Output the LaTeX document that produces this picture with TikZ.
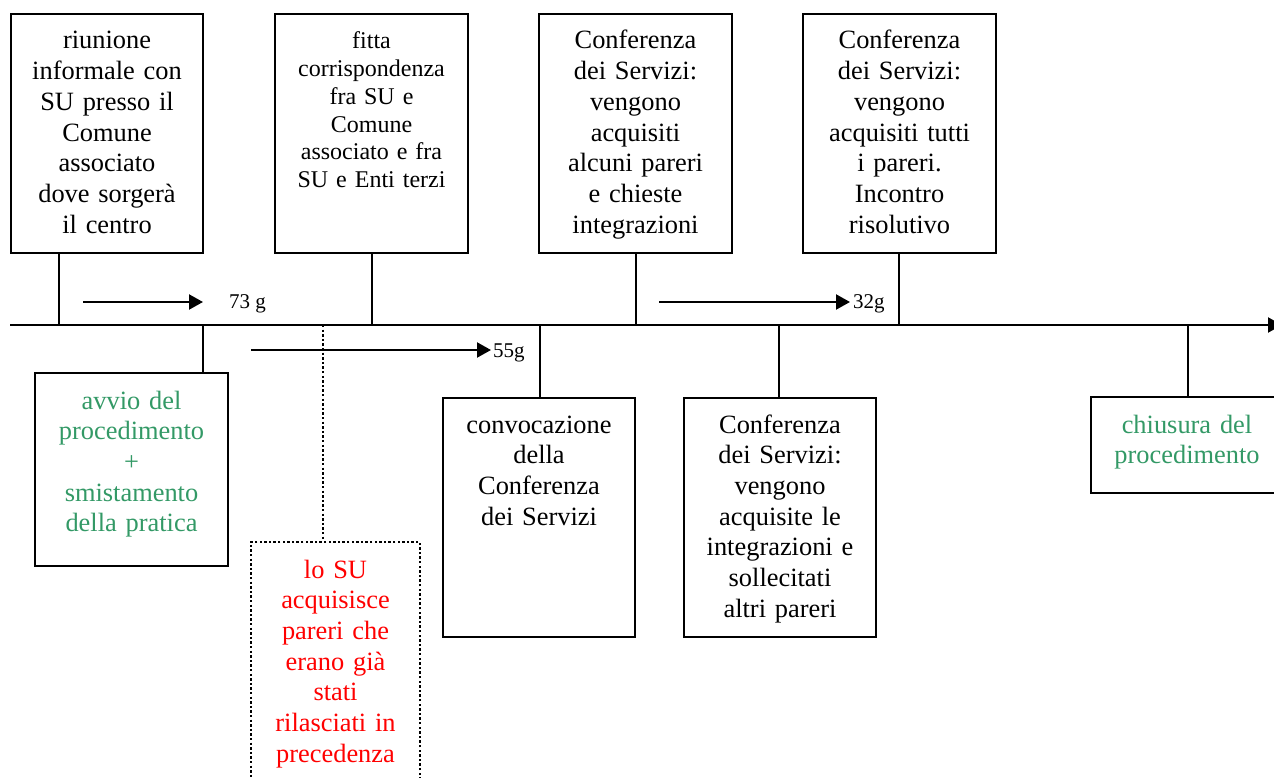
\documentclass[tikz,border=0pt]{standalone}
\usepackage{fontspec}
\setmainfont{Liberation Serif}
\usetikzlibrary{arrows.meta}
\definecolor{stepgreen}{HTML}{339966}
\definecolor{stepred}{HTML}{FF0000}
\begin{document}
\begin{tikzpicture}[x=1pt,y=-1pt,
  line width=2.1pt,
  frame/.style={draw=black, rectangle, inner sep=0pt, line width=2.1pt},
  dotline/.style={line width=2.4pt, dash pattern=on 2.4pt off 2.2pt},
  dotframe/.style={frame, dotline},
  body/.style={anchor=base, text width=188pt, align=center, inner sep=0pt,
               font=\fontsize{26.4}{30.7}\selectfont},
  smallbody/.style={body, font=\fontsize{24}{27.7}\selectfont},
  span/.style={-{Triangle[length=14pt,width=15pt]}, line width=2.1pt},
  days/.style={anchor=base west, inner sep=0pt, font=\fontsize{21}{24}\selectfont},
]
\useasboundingbox (0,0) rectangle (1274,778);
\clip (0,0) rectangle (1274,778);

% time axis
\coordinate (axstart) at (10,325);
\coordinate (axend) at (1282,325);
\draw[span] (axstart) -- (axend);

% attachment points on the axis
\coordinate (p1) at (59,325);
\coordinate (p2) at (203,325);
\coordinate (p3) at (323,325);
\coordinate (p4) at (372,325);
\coordinate (p5) at (540,325);
\coordinate (p6) at (636,325);
\coordinate (p7) at (779,325);
\coordinate (p8) at (899,325);
\coordinate (p9) at (1188,325);

% upper boxes
\node[frame, minimum width=192pt, minimum height=239pt] (b1) at (107,133.5) {};
\node[body] (b1t) at (107,49) {riunione\\informale con\\SU presso il\\Comune\\associato\\dove sorgerà\\il centro};

\node[frame, minimum width=193pt, minimum height=239pt] (b2) at (371.5,133.5) {};
\node[smallbody] (b2t) at (371.5,49) {fitta\\corrispondenza\\fra SU e\\Comune\\associato e fra\\SU e Enti terzi};

\node[frame, minimum width=193pt, minimum height=239pt] (b3) at (635.5,133.5) {};
\node[body] (b3t) at (635.5,49) {Conferenza\\dei Servizi:\\vengono\\acquisiti\\alcuni pareri\\e chieste\\integrazioni};

\node[frame, minimum width=193pt, minimum height=239pt] (b4) at (899.5,133.5) {};
\node[body] (b4t) at (899.5,49) {Conferenza\\dei Servizi:\\vengono\\acquisiti tutti\\i pareri.\\Incontro\\risolutivo};

% lower boxes
\node[frame, minimum width=193pt, minimum height=193pt] (b5) at (131.5,469.5) {};
\node[body, text=stepgreen] (b5t) at (131.5,409) {avvio del\\procedimento\\+\\smistamento\\della pratica};

\node[dotframe, minimum width=169pt, minimum height=248pt] (b6) at (335.5,666) {};
\node[body, text=stepred, text width=165pt] (b6t) at (335.5,578) {lo SU\\acquisisce\\pareri che\\erano già\\stati\\rilasciati in\\precedenza};

\node[frame, minimum width=192pt, minimum height=239pt] (b7) at (539,517.5) {};
\node[body] (b7t) at (539,433) {convocazione\\della\\Conferenza\\dei Servizi};

\node[frame, minimum width=192pt, minimum height=239pt] (b8) at (780,517.5) {};
\node[body] (b8t) at (780,433) {Conferenza\\dei Servizi:\\vengono\\acquisite le\\integrazioni e\\sollecitati\\altri pareri};

\node[frame, minimum width=192pt, minimum height=96pt] (b9) at (1187,445) {};
\node[body, text=stepgreen] (b9t) at (1187,433) {chiusura del\\procedimento};

% connectors between boxes and the axis
\draw (p1 |- b1.south) -- (p1);
\draw (p4 |- b2.south) -- (p4);
\draw (p6 |- b3.south) -- (p6);
\draw (p8 |- b4.south) -- (p8);
\draw (p2) -- (p2 |- b5.north);
\draw[dotline] (p3) -- (p3 |- b6.north);
\draw (p5) -- (p5 |- b7.north);
\draw (p7) -- (p7 |- b8.north);
\draw (p9) -- (p9 |- b9.north);

% durations
\coordinate (d1a) at (83,302);
\coordinate (d1b) at (203,302);
\draw[span] (d1a) -- (d1b);
\node[days] (d1) at (228,308) {73 g};

\coordinate (d2a) at (251,350);
\coordinate (d2b) at (491,350);
\draw[span] (d2a) -- (d2b);
\node[days] (d2) at (492,357) {55g};

\coordinate (d3a) at (659,302);
\coordinate (d3b) at (850,302);
\draw[span] (d3a) -- (d3b);
\node[days] (d3) at (852,308) {32g};
\end{tikzpicture}
\end{document}
